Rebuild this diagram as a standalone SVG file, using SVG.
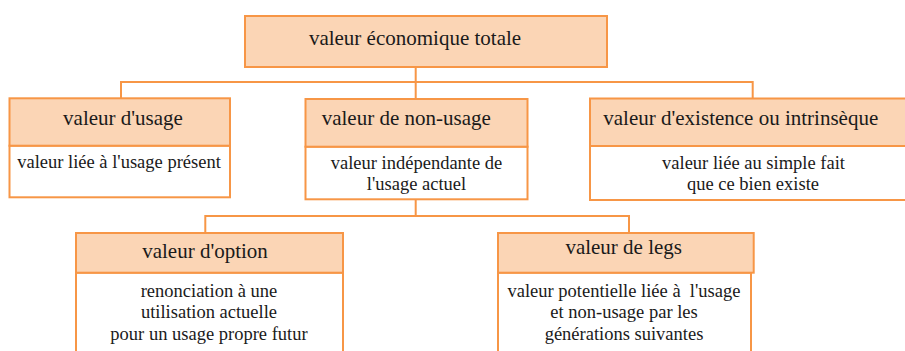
<svg xmlns="http://www.w3.org/2000/svg" width="905" height="351" viewBox="0 0 905 351">
<style>
.hd{fill:#FBD5B5;stroke:#F79646;stroke-width:2}
.bd{fill:#FFFFFF;stroke:#F79646;stroke-width:2}
.ln{fill:none;stroke:#F79646;stroke-width:2}
text{font-family:"Liberation Serif","Times New Roman",serif;fill:#1a1a1a}
.h{font-size:21px}
.b{font-size:18.5px}
.c{text-anchor:middle}
</style>
<rect x="0" y="0" width="905" height="351" fill="#FFFFFF"/>
<g id="connectors">
<path class="ln" d="M415.7,67 V82 M121,98 V82 H752.7 V98 M415.7,82 V98"/>
<path class="ln" d="M415.7,200 V216 M205.3,233 V216 H629 V233"/>
</g>
<g id="total">
<rect class="hd" x="245" y="16" width="362" height="51"/>
<text class="h c" x="415" y="45">valeur économique totale</text>
</g>
<g id="usage">
<rect class="bd" x="9.5" y="145.7" width="220.5" height="51.6"/>
<rect class="hd" x="9.5" y="98.3" width="220.5" height="47.4"/>
<text class="h c" x="123" y="125">valeur d'usage</text>
<text class="b c" x="119" y="168">valeur liée à l'usage présent</text>
</g>
<g id="non-usage">
<rect class="bd" x="305.5" y="146.7" width="222" height="52.6"/>
<rect class="hd" x="305.5" y="99" width="222" height="47.7"/>
<text class="h" x="321.7" y="125">valeur de non-usage</text>
<text class="b c" x="416.5" y="169">valeur indépendante de</text>
<text class="b c" x="416.5" y="190">l'usage actuel</text>
</g>
<g id="existence">
<rect class="bd" x="590" y="146" width="320" height="54"/>
<rect class="hd" x="590" y="98.5" width="320" height="47.5"/>
<text class="h" x="603.3" y="125">valeur d'existence ou intrinsèque</text>
<text class="b c" x="753.5" y="169">valeur liée au simple fait</text>
<text class="b c" x="753" y="190">que ce bien existe</text>
</g>
<g id="option">
<rect class="bd" x="76" y="272.7" width="267" height="90"/>
<rect class="hd" x="76" y="233" width="267" height="39.7"/>
<text class="h c" x="205" y="257.7">valeur d'option</text>
<text class="b c" x="209" y="297.3">renonciation à une</text>
<text class="b c" x="209" y="318.3">utilisation actuelle</text>
<text class="b c" x="209" y="340">pour un usage propre futur</text>
</g>
<g id="legs">
<rect class="bd" x="498" y="272.7" width="253" height="90"/>
<rect class="hd" x="498" y="233" width="255.7" height="39.7"/>
<text class="h c" x="623.7" y="254">valeur de legs</text>
<text class="b c" x="624" y="297.3">valeur potentielle liée à&#160; l'usage</text>
<text class="b c" x="624" y="318.3">et non-usage par les</text>
<text class="b c" x="624" y="340">générations suivantes</text>
</g>
</svg>
